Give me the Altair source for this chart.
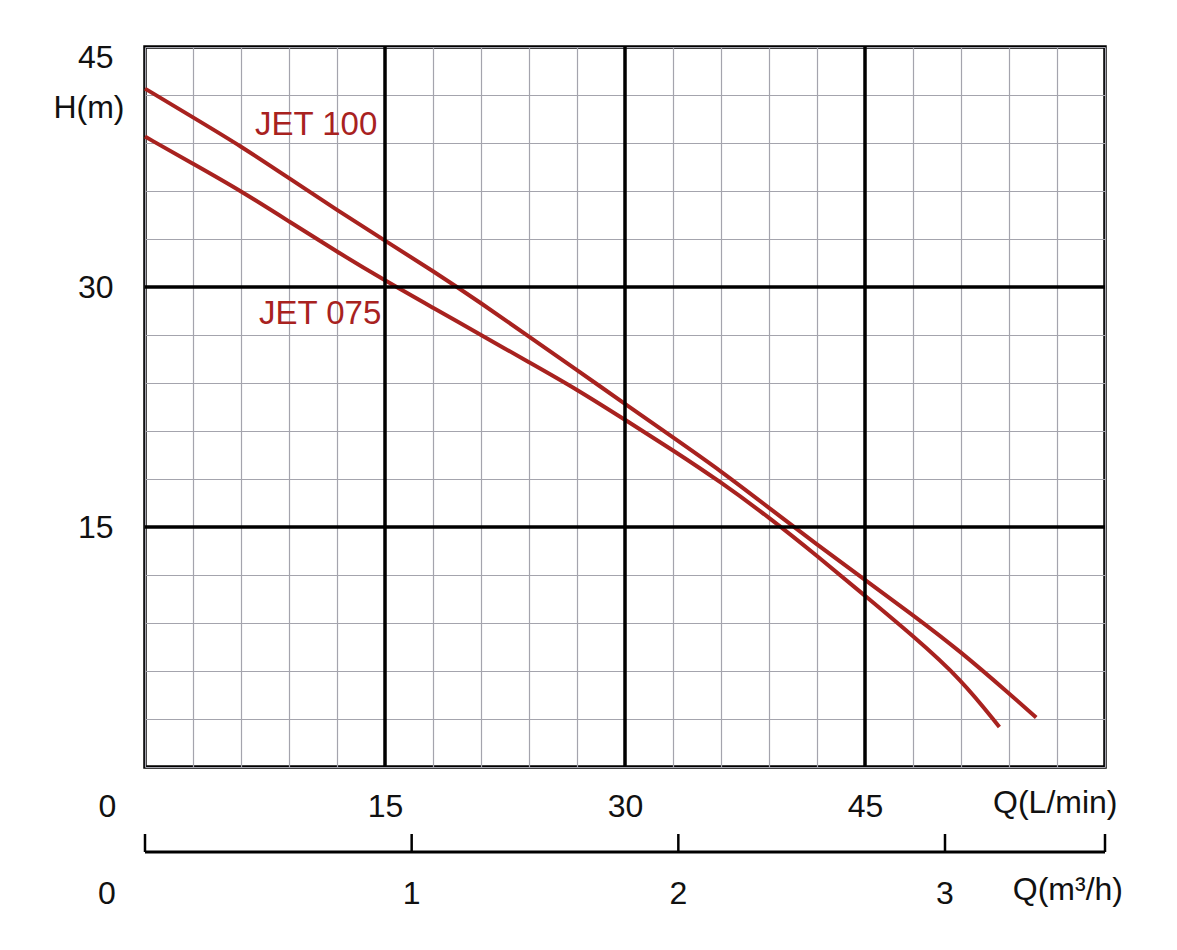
import altair as alt
import pandas as pd

# ---- data ----
q_jet100 = [0, 3, 6, 9, 12, 15, 18, 21, 24, 27, 30, 33, 36, 39, 42, 45, 48, 51, 54, 55.7]
h_jet100 = [42.4, 40.6, 38.8, 36.8, 34.8, 32.9, 31.0, 29.0, 26.9, 24.8, 22.7, 20.6, 18.5, 16.2, 13.9, 11.7, 9.5, 7.2, 4.6, 3.1]
q_jet075 = [0, 3, 6, 9, 12, 15, 18, 21, 24, 27, 30, 33, 36, 39, 42, 45, 48, 51, 53.4]
h_jet075 = [39.4, 37.7, 36.0, 34.1, 32.2, 30.4, 28.7, 27.0, 25.3, 23.6, 21.7, 19.8, 17.8, 15.6, 13.2, 10.7, 8.2, 5.5, 2.5]
series_names = ["JET 100", "JET 075"]

x_grid = list(range(0, 61, 3))      # L/min grid lines
y_grid = list(range(0, 46, 3))      # m grid lines
x_major = [15, 30, 45]
y_major = [15, 30]
m3h_ticks = [0, 1, 2, 3, 3.6]      # second (m3/h) scale ruler
m3h_labels = [1, 2, 3]
m3h_zero = [0]
LPM_PER_M3H = 1000 / 60

FONT = "Liberation Sans"
RED = "#a8221f"
INK = "#111111"
FS = 32

xs = alt.Scale(domain=[0, 60], nice=False, zero=False)
ys = alt.Scale(domain=[0, 45], nice=False, zero=False)

curves = pd.DataFrame({
    "q": q_jet100 + q_jet075,
    "h": h_jet100 + h_jet075,
    "series": [series_names[0]] * len(q_jet100) + [series_names[1]] * len(q_jet075),
})

x_axis = alt.Axis(
    values=x_grid, grid=True, gridColor="#a4a4ad", gridWidth=1.2,
    ticks=False, domain=False,
    labelExpr="(datum.value % 15 === 0 && datum.value < 60) ? datum.label : ''",
    labelFont=FONT, labelFontSize=FS, labelColor=INK, labelPadding=49,
    labelBaseline="alphabetic", labelFlush=False, labelOverlap=False,
    labelOffset={"condition": {"test": "datum.value === 0", "value": -38}, "value": 0},
    title="Q(L/min)", titleX=972, titleY=45, titleAlign="right",
    titleBaseline="alphabetic", titleFont=FONT, titleFontSize=FS,
    titleFontWeight="normal", titleColor=INK,
)
y_axis = alt.Axis(
    values=y_grid, grid=True, gridColor="#a4a4ad", gridWidth=1.2,
    ticks=False, domain=False,
    labelExpr="(datum.value % 15 === 0 && datum.value > 0) ? datum.label : ''",
    labelFont=FONT, labelFontSize=FS, labelColor=INK, labelPadding=32,
    labelFlush=True, labelFlushOffset=5, labelOverlap=False,
    title="H(m)", titleAngle=0, titleX=-21, titleY=70, titleAlign="right",
    titleBaseline="alphabetic", titleFont=FONT, titleFontSize=FS,
    titleFontWeight="normal", titleColor=INK,
)

lines = alt.Chart(curves).mark_line(color=RED, strokeWidth=4, interpolate="basis").encode(
    x=alt.X("q:Q", scale=xs, axis=x_axis),
    y=alt.Y("h:Q", scale=ys, axis=y_axis),
    detail="series:N",
)

vmajor = alt.Chart(pd.DataFrame({"q": x_major})).mark_rule(color="black", strokeWidth=3.5).encode(
    x=alt.X("q:Q", scale=xs))
hmajor = alt.Chart(pd.DataFrame({"h": y_major})).mark_rule(color="black", strokeWidth=3.5).encode(
    y=alt.Y("h:Q", scale=ys))

lab100 = alt.Chart(pd.DataFrame({"t": [series_names[0]]})).mark_text(
    font=FONT, fontSize=33, color=RED, align="left", baseline="alphabetic"
).encode(text="t:N", x=alt.value(110), y=alt.value(88))
lab075 = alt.Chart(pd.DataFrame({"t": [series_names[1]]})).mark_text(
    font=FONT, fontSize=33, color=RED, align="left", baseline="alphabetic"
).encode(text="t:N", x=alt.value(114), y=alt.value(277))

# second scale: m3/h ruler below the chart
ruler = alt.Chart(pd.DataFrame({"a": [m3h_ticks[0]], "b": [m3h_ticks[-1]]})).transform_calculate(
    q=f"datum.a * {LPM_PER_M3H}", q2=f"datum.b * {LPM_PER_M3H}"
).mark_rule(color="black", strokeWidth=3).encode(
    x=alt.X("q:Q", scale=xs), x2="q2:Q", y=alt.value(805))
rticks = alt.Chart(pd.DataFrame({"m": m3h_ticks})).transform_calculate(
    q=f"datum.m * {LPM_PER_M3H}"
).mark_rule(color="black", strokeWidth=2.5).encode(
    x=alt.X("q:Q", scale=xs), y=alt.value(787), y2=alt.value(805))
rlabels = alt.Chart(pd.DataFrame({"m": m3h_labels})).transform_calculate(
    q=f"datum.m * {LPM_PER_M3H}"
).mark_text(font=FONT, fontSize=FS, color=INK, baseline="alphabetic", align="center").encode(
    x=alt.X("q:Q", scale=xs), y=alt.value(857), text="m:N")
rzero = alt.Chart(pd.DataFrame({"m": m3h_zero})).transform_calculate(
    q=f"datum.m * {LPM_PER_M3H}"
).mark_text(font=FONT, fontSize=FS, color=INK, baseline="alphabetic", align="center", dx=-38).encode(
    x=alt.X("q:Q", scale=xs), y=alt.value(857), text="m:N")
rtitle = alt.Chart(pd.DataFrame({"t": ["Q(m³/h)"]})).mark_text(
    font=FONT, fontSize=FS, color=INK, baseline="alphabetic", align="right"
).encode(text="t:N", x=alt.value(978), y=alt.value(853))

chart = alt.layer(
    lines, vmajor, hmajor, lab100, lab075, ruler, rticks, rlabels, rzero, rtitle
).properties(
    width=960, height=720,
    autosize=alt.AutoSizeParams(type="none"),
    padding={"left": 137, "top": 39, "right": 64, "bottom": 175},
    background="white",
).configure_view(stroke="black", strokeWidth=3.5)

chart.save("out.html", embed_options={"renderer": "svg", "actions": False})
